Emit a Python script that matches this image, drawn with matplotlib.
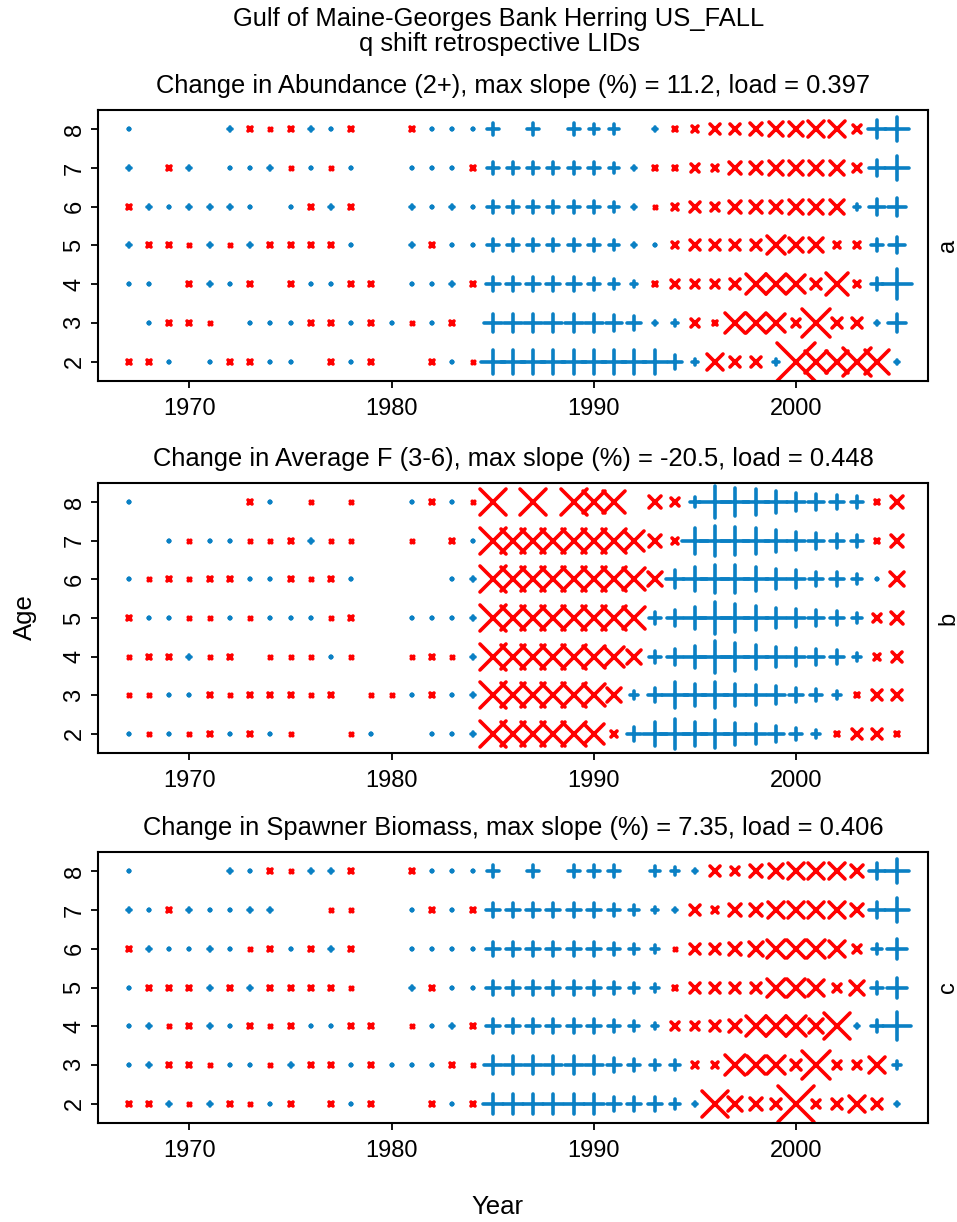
import numpy as np
import matplotlib
matplotlib.use("Agg")
import matplotlib.pyplot as plt
from matplotlib.markers import MarkerStyle

plt.rcParams['font.family'] = ['Liberation Sans', 'DejaVu Sans']

years = list(range(1967, 2006))
ages = [2, 3, 4, 5, 6, 7, 8]

# signed change per cell (positive -> blue +, negative -> red x), rows are ages 2..8
abund = [
    [-3, -3, 2, 0, 2, -3, -3, 1, 1, 0, -3, 2, -3, 0, 0, -3, 2, -2, 24, 24,
     24, 24, 24, 24, 24, 24, 24, 13, 5, -15, -10, -10, 5, -38, -22, -22, -28, -24, 3],
    [0, 2, -4, -3, -2, 0, 2, 1, 2, -3, -3, 2, -4, 2, -2, 2, -3, 0, 17, 17,
     17, 17, 17, 17, 16, 14, 3, 6, -8, -4, -20, -20, -18, -8, -28, -9, -9, 3, 18],
    [1, 2, 0, -4, 4, 2, -3, 0, -3, 2, 1, -3, -3, 0, 2, 1, 3, -3, 13, 13,
     13, 13, 13, 11, 9, 6, -3, -8, -8, -8, -9, -20, -20, -18, -9, -22, -5, 12, 30],
    [3, -3, -3, -2, 3, -2, 3, -4, -3, -4, -3, 2, 0, 0, 3, -3, 2, 2, 12, 12,
     12, 12, 12, 11, 9, 4, 1, -5, -9, -9, -10, -10, -18, -14, -14, -5, -6, 12, 16],
    [-3, 3, 2, 3, 3, 3, 2, 0, 2, -3, 3, -4, 0, 0, 3, 1, 3, 2, 11, 11,
     11, 11, 11, 11, 9, 4, -2, -5, -9, -8, -11, -11, -12, -14, -14, -13, 6, 15, 18],
    [3, 0, -3, 3, 0, 2, 2, 3, -2, 2, -2, 2, 0, 0, 2, 2, 2, -3, 11, 11,
     11, 11, 11, 11, 9, 3, -3, -4, -8, -6, -11, -11, -13, -13, -14, -14, -7, 16, 24],
    [2, 0, 0, 0, 0, 3, -3, -2, -3, 3, 2, -3, 0, 0, -3, 2, 2, 2, 11, 0,
     11, 0, 11, 10, 10, 0, 3, -3, -5, -9, -9, -12, -13, -14, -16, -16, -8, 18, 24],
]

avg_f = [
    [1, -2, 2, -2, -4, 1, -3, 2, -2, 0, 0, -2, 2, 0, 0, 2, 2, 4, -26, -24,
     -24, -24, -24, -20, -5, 14, 24, 30, 24, 28, 22, 20, 16, 12, 8, -4, -9, -9, -4],
    [-2, -2, 2, 2, -4, -2, -3, -4, -3, -2, -3, 0, -2, -2, 2, -3, 2, 4, -26, -24,
     -24, -24, -24, -22, -14, 8, 14, 26, 22, 26, 22, 20, 18, 14, 12, 8, -4, -9, -9],
    [-2, -3, -3, 3, -2, -4, 0, -2, -2, -2, 2, -2, 0, 0, -2, -3, -2, 3, -26, -24,
     -24, -24, -24, -22, -20, -14, 12, 16, 22, 32, 28, 24, 20, 18, 16, 14, 8, -5, -9],
    [-4, 2, 2, -2, -2, 2, -2, 2, 2, 2, -2, -3, 0, 0, 2, 2, 2, 3, -26, -24,
     -24, -24, -24, -24, -24, -22, 12, 16, 22, 32, 28, 24, 20, 18, 16, 14, 10, -8, -12],
    [2, -2, -3, -2, -3, -4, 2, 2, -3, -2, -3, 2, 0, 0, 0, 0, 2, 3, -26, -24,
     -24, -24, -24, -24, -24, -22, -14, 18, 24, 28, 28, 24, 20, 18, 14, 14, 10, 2, -14],
    [0, 0, 1, -2, 2, 2, -2, -2, -3, 3, -2, -2, 0, 0, -2, 0, -3, 2, -26, -24,
     -24, -24, -24, -24, -24, -20, -12, -6, 26, 30, 28, 26, 22, 18, 16, 14, 11, -4, -12],
    [2, 0, 0, 0, 0, 0, -3, 2, 0, -2, 0, -2, 0, 0, 2, -3, 1, -2, -25, 0,
     -25, 0, -25, -22, -22, 0, -12, -8, 10, 32, 27, 25, 22, 18, 16, 14, 12, -4, -12],
]

ssb = [
    [-3, -4, 3, -2, 3, -3, -2, 2, -3, 0, -3, 2, -3, 0, 0, -3, 1, -3, 20, 20,
     20, 20, 20, 20, 14, 14, 14, 10, 4, -26, -14, -12, -10, -36, -8, -9, -16, -10, 3],
    [2, 3, -4, -4, -2, 1, 2, -2, 3, -3, -3, 2, -3, 2, 2, 2, -3, -2, 18, 18,
     18, 18, 18, 18, 14, 12, 10, 10, -6, -6, -20, -18, -18, -10, -28, -7, -8, -16, 8],
    [2, 3, -2, -4, 4, 2, -4, -2, -4, 2, 1, -3, -3, 0, -2, 2, 3, -4, 14, 14,
     14, 14, 14, 14, 11, 10, 6, -7, -8, -9, -12, -20, -20, -20, -14, -26, 3, 12, 28],
    [2, -3, -3, -3, 3, -3, 3, -4, -3, -3, -3, -2, 0, 0, 3, -4, 2, 1, 13, 13,
     13, 13, 13, 13, 11, 10, 7, -4, -9, -9, -10, -10, -18, -18, -16, -8, -14, 12, 20],
    [-3, 3, 2, 2, 3, 2, -2, -3, 2, -3, 3, -4, 0, 0, 2, 2, 2, 2, 13, 13,
     13, 13, 13, 13, 11, 9, 7, -2, -9, -9, -11, -14, -18, -18, -18, -16, -7, 10, 20],
    [3, 2, -4, 3, 2, 1, 3, 3, 0, 0, -2, -2, 0, 0, 2, -3, 2, -3, 13, 13,
     13, 13, 13, 13, 11, 10, 6, 4, -9, -6, -12, -12, -16, -16, -16, -16, -12, 16, 24],
    [2, 0, 0, 0, 0, 3, 2, -3, -2, 3, 3, -3, 0, 0, -3, 2, 2, 2, 12, 0,
     12, 0, 12, 12, 12, 0, 9, 7, 3, -9, -8, -12, -14, -16, -16, -16, -12, 16, 24],
]

titles = [
    "Change in Abundance (2+), max slope (%) = 11.2, load = 0.397",
    "Change in Average F (3-6), max slope (%) = -20.5, load = 0.448",
    "Change in Spawner Biomass, max slope (%) = 7.35, load = 0.406",
]
panel_tags = ["a", "b", "c"]

BLUE = "#0A80C4"
RED = "#FF0000"
MS_SCALE = 0.72   # symbol size (pt) per unit of change
MS_BASE = 0.4     # keeps the smallest changes visible as dots
LW = 2.6

plus = MarkerStyle("+", capstyle="round")
cross = MarkerStyle("x", capstyle="round")

fig = plt.figure(figsize=(9.57, 12.22), dpi=100)
W, H = 957, 1222
boxes = [(98, 110, 928, 381), (98, 483, 928, 753), (98, 852, 928, 1123)]

for k, (data, title, tag) in enumerate(zip([abund, avg_f, ssb], titles, panel_tags)):
    x0, y0, x1, y1 = boxes[k]
    ax = fig.add_axes([x0 / W, 1 - y1 / H, (x1 - x0) / W, (y1 - y0) / H])
    for i, age in enumerate(ages):
        for j, yr in enumerate(years):
            v = data[i][j]
            if v == 0:
                continue
            ax.plot(yr, age, linestyle="none",
                    marker=plus if v > 0 else cross,
                    color=BLUE if v > 0 else RED,
                    markersize=MS_BASE + abs(v) * MS_SCALE, markeredgewidth=LW)
    ax.set_xlim(1965.48, 2006.52)
    ax.set_ylim(1.5, 8.5)
    ax.set_xticks([1970, 1980, 1990, 2000])
    ax.set_yticks(ages)
    ax.tick_params(direction="out", length=5, width=1.3, labelsize=17, pad=7)
    ax.tick_params(axis="y", pad=4)
    for lab in ax.get_yticklabels():
        lab.set_rotation(90)
        lab.set_va("center")
    for s in ax.spines.values():
        s.set_linewidth(1.5)
    ax.set_title(title, fontsize=18.4, pad=12)
    fig.text(948 / W, 1 - (y0 + y1) / 2 / H, tag, rotation=90, fontsize=17,
             ha="center", va="center")

fig.text(499 / W, 1 - 19 / H, "Gulf of Maine-Georges Bank Herring US_FALL",
         fontsize=18.4, ha="center", va="center")
fig.text(499 / W, 1 - 44 / H, "q shift retrospective LIDs",
         fontsize=18.4, ha="center", va="center")
fig.text(25 / W, 1 - 617 / H, "Age", rotation=90, fontsize=18.5,
         ha="center", va="center")
fig.text(497 / W, 1 - 1207 / H, "Year", fontsize=18.5, ha="center", va="center")

fig.savefig("out.png", dpi=100)
